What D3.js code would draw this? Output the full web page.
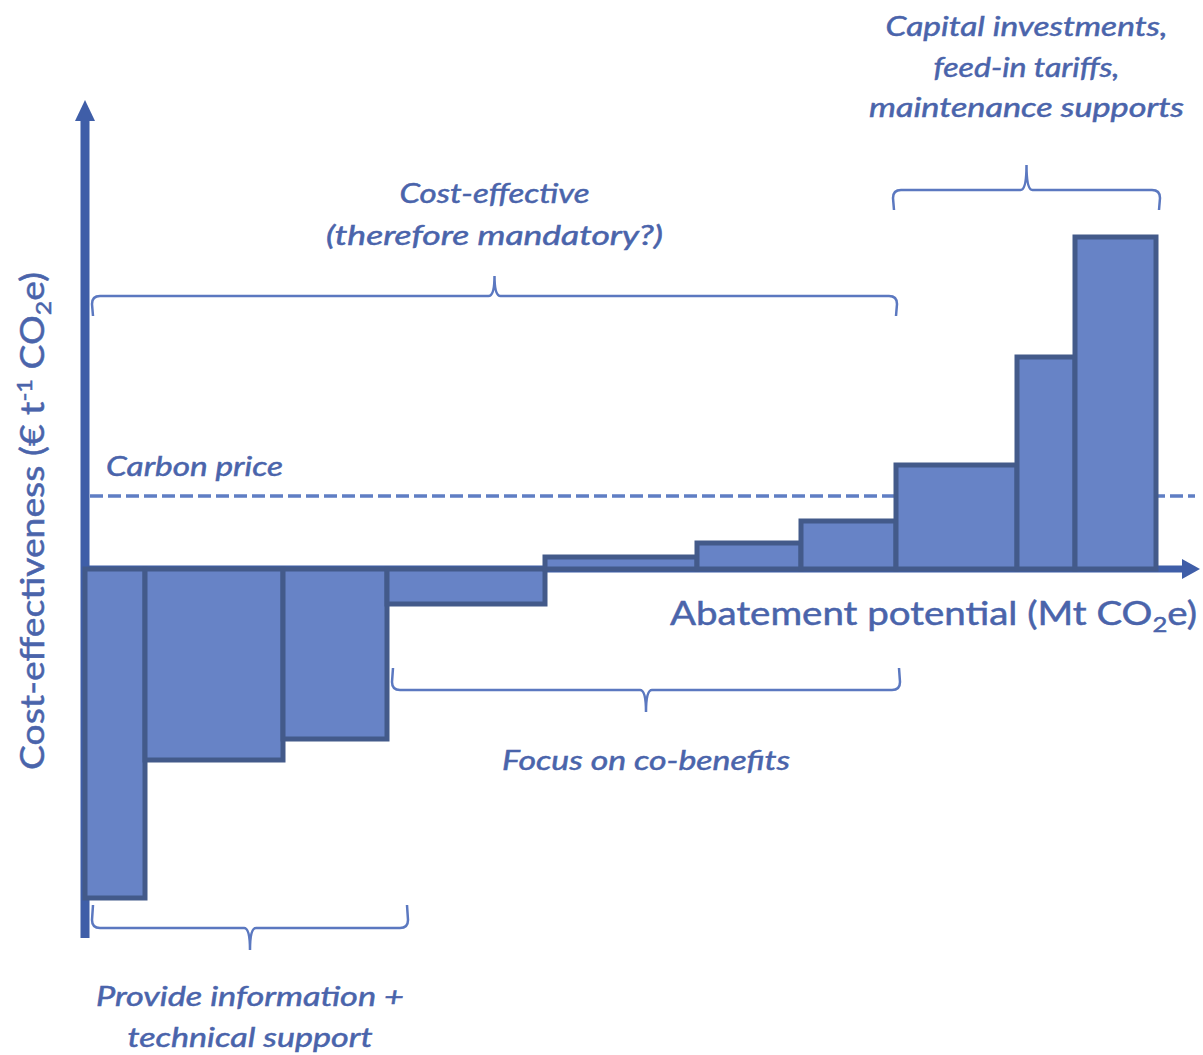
<!DOCTYPE html>
<html>
<head>
<meta charset="utf-8">
<script src="https://cdn.jsdelivr.net/npm/d3@7"></script>
<style>
  body { margin: 0; background: #ffffff; }
  text { stroke: #4a64ab; stroke-width: 0.5px; }
</style>
</head>
<body>
<div id="canvas"></div>
<script>
"use strict"

/* Data: marginal abatement cost curve (arbitrary units) */
let measureIds = [1, 2, 3, 4, 5, 6, 7, 8, 9, 10];
let abatement = [6.0, 13.8, 10.4, 15.8, 15.2, 10.4, 9.5, 12.1, 5.8, 8.1];
let costs = [-32.9, -19.1, -17.0, -3.5, 1.2, 2.6, 4.8, 10.4, 21.2, 33.2];
let carbonPrice = 7.3;

/* Groups of measures (first and last bar index) and their labels */
let groupLabels = [
  ["Cost-effective", "(therefore mandatory?)"],
  ["Capital investments,", "feed-in tariffs,", "maintenance supports"],
  ["Focus on co-benefits"],
  ["Provide information +", "technical support"]
];
let groupFirst = [0, 7, 3, 0];
let groupLast = [6, 9, 6, 2];

/* Drawing configuration */
let svgWidth = 1203;
let svgHeight = 1055;
let axisColor = "#3f5ea8";
let barFill = "#6783c6";
let barStroke = "#435a8a";
let textColor = "#4a64ab";
let braceColor = "#5b78c0";

let svg = d3.select("#canvas")
    .append("svg")
    .attr("width", svgWidth)
    .attr("height", svgHeight);

let xScale = d3.scaleLinear()
    .domain([0, 111.5])
    .range([85, 1200]);

let yScale = d3.scaleLinear()
    .domain([-36.9, 46.9])
    .range([938, 100]);

/* cumulative start / end of each bar */
let starts = [];
let acc = 0;
abatement.forEach(function (w) {
  starts.push(acc);
  acc += w;
});
let bars = measureIds.map(function (id, i) {
  return {id: id, x0: starts[i], x1: starts[i] + abatement[i], cost: costs[i]};
});

/**** axes ****/
svg.append("line")
    .attr("x1", xScale(0))
    .attr("x2", xScale(0))
    .attr("y1", yScale(-36.9))
    .attr("y2", yScale(45))
    .attr("stroke", axisColor)
    .attr("stroke-width", 9);

svg.append("path")
    .attr("d", "M" + (xScale(0) - 10) + "," + (yScale(45) + 2) +
               " L" + xScale(0) + "," + yScale(46.9) +
               " L" + (xScale(0) + 10) + "," + (yScale(45) + 2) + " Z")
    .attr("fill", axisColor);

svg.append("line")
    .attr("x1", xScale(0))
    .attr("x2", xScale(110))
    .attr("y1", yScale(0))
    .attr("y2", yScale(0))
    .attr("stroke", axisColor)
    .attr("stroke-width", 7);

svg.append("path")
    .attr("d", "M" + xScale(109.7) + "," + (yScale(0) - 10) +
               " L" + xScale(111.5) + "," + yScale(0) +
               " L" + xScale(109.7) + "," + (yScale(0) + 10) + " Z")
    .attr("fill", axisColor);

/**** carbon price ****/
svg.append("line")
    .attr("x1", xScale(0.5))
    .attr("x2", xScale(111))
    .attr("y1", yScale(carbonPrice))
    .attr("y2", yScale(carbonPrice))
    .attr("stroke", "#5f7ec4")
    .attr("stroke-width", 3.5)
    .attr("stroke-dasharray", "13,5");

svg.append("text")
    .attr("x", xScale(2.1))
    .attr("y", yScale(carbonPrice) - 20)
    .attr("font-family", "Lato")
    .attr("font-style", "italic")
    .attr("font-size", 27)
    .attr("fill", textColor)
    .attr("textLength", 177)
    .attr("lengthAdjust", "spacingAndGlyphs")
    .text("Carbon price");

/**** bars ****/
svg.selectAll("rect.bar")
    .data(bars)
    .join("rect")
    .attr("class", "bar")
    .attr("x", function (d) { return xScale(d.x0); })
    .attr("width", function (d) { return xScale(d.x1) - xScale(d.x0); })
    .attr("y", function (d) { return yScale(Math.max(0, d.cost)); })
    .attr("height", function (d) { return Math.abs(yScale(d.cost) - yScale(0)); })
    .attr("fill", barFill)
    .attr("stroke", barStroke)
    .attr("stroke-width", 5);

/**** braces ****/
function brace(x0, x1, y, ends, tip) {
  // ends: signed length of the end hooks, tip: signed length of middle point
  let xm = (x0 + x1) / 2;
  let r = 8 * Math.sign(ends);
  return "M" + (x0 + 1) + "," + (y + ends) +
         " L" + x0 + "," + (y + r) +
         " Q" + x0 + "," + y + " " + (x0 + 8) + "," + y +
         " L" + (xm - 6) + "," + y +
         " Q" + xm + "," + y + " " + xm + "," + (y + tip) +
         " Q" + xm + "," + y + " " + (xm + 6) + "," + y +
         " L" + (x1 - 8) + "," + y +
         " Q" + x1 + "," + y + " " + x1 + "," + (y + r) +
         " L" + (x1 - 1) + "," + (y + ends);
}

/* vertical placement of each group: brace line, hook, tip, text baselines */
let braceY = [296, 190, 690, 928];
let braceEnds = [20, 20, -22, -23];
let braceTip = [-20, -25, 22, 22];
let textBase = [[203, 245], [36, 77, 117], [770], [1006, 1047]];
let textWidths = [[190, 337], [282, 186, 315], [288], [308, 245]];
let bracePad = [[0.7, 0.1], [-0.3, 0.4], [0.5, 0.4], [0.7, 2.1]];

groupLabels.forEach(function (lines, g) {
  let x0 = xScale(bars[groupFirst[g]].x0 + bracePad[g][0]);
  let x1 = xScale(bars[groupLast[g]].x1 + bracePad[g][1]);
  let xm = (x0 + x1) / 2;

  svg.append("path")
      .attr("d", brace(x0, x1, braceY[g], braceEnds[g], braceTip[g]))
      .attr("fill", "none")
      .attr("stroke", braceColor)
      .attr("stroke-width", 2.5);

  lines.forEach(function (line, i) {
    svg.append("text")
        .attr("x", xm)
        .attr("y", textBase[g][i])
        .attr("text-anchor", "middle")
        .attr("font-family", "Lato")
        .attr("font-style", "italic")
        .attr("font-size", 27)
        .attr("fill", textColor)
        .attr("textLength", textWidths[g][i])
        .attr("lengthAdjust", "spacingAndGlyphs")
        .text(line);
  });
});

/**** axis labels ****/
let xLabel = svg.append("text")
    .attr("x", 670)
    .attr("y", 625)
    .attr("font-family", "Lato")
    .attr("font-size", 33)
    .attr("fill", textColor)
    .attr("textLength", 527)
    .attr("lengthAdjust", "spacingAndGlyphs");
xLabel.append("tspan").text("Abatement potential (Mt CO");
xLabel.append("tspan").attr("font-size", 22).attr("dy", 7).text("2");
xLabel.append("tspan").attr("dy", -7).text("e)");

let yLabel = svg.append("text")
    .attr("transform", "translate(44,521) rotate(-90)")
    .attr("text-anchor", "middle")
    .attr("font-family", "Lato")
    .attr("font-size", 33)
    .attr("fill", textColor)
    .attr("textLength", 498)
    .attr("lengthAdjust", "spacingAndGlyphs");
yLabel.append("tspan").text("Cost-effectiveness (€ t");
yLabel.append("tspan").attr("font-size", 21).attr("dy", -12).text("-1");
yLabel.append("tspan").attr("dy", 12).text(" CO");
yLabel.append("tspan").attr("font-size", 22).attr("dy", 7).text("2");
yLabel.append("tspan").attr("dy", -7).text("e)");
</script>
</body>
</html>
